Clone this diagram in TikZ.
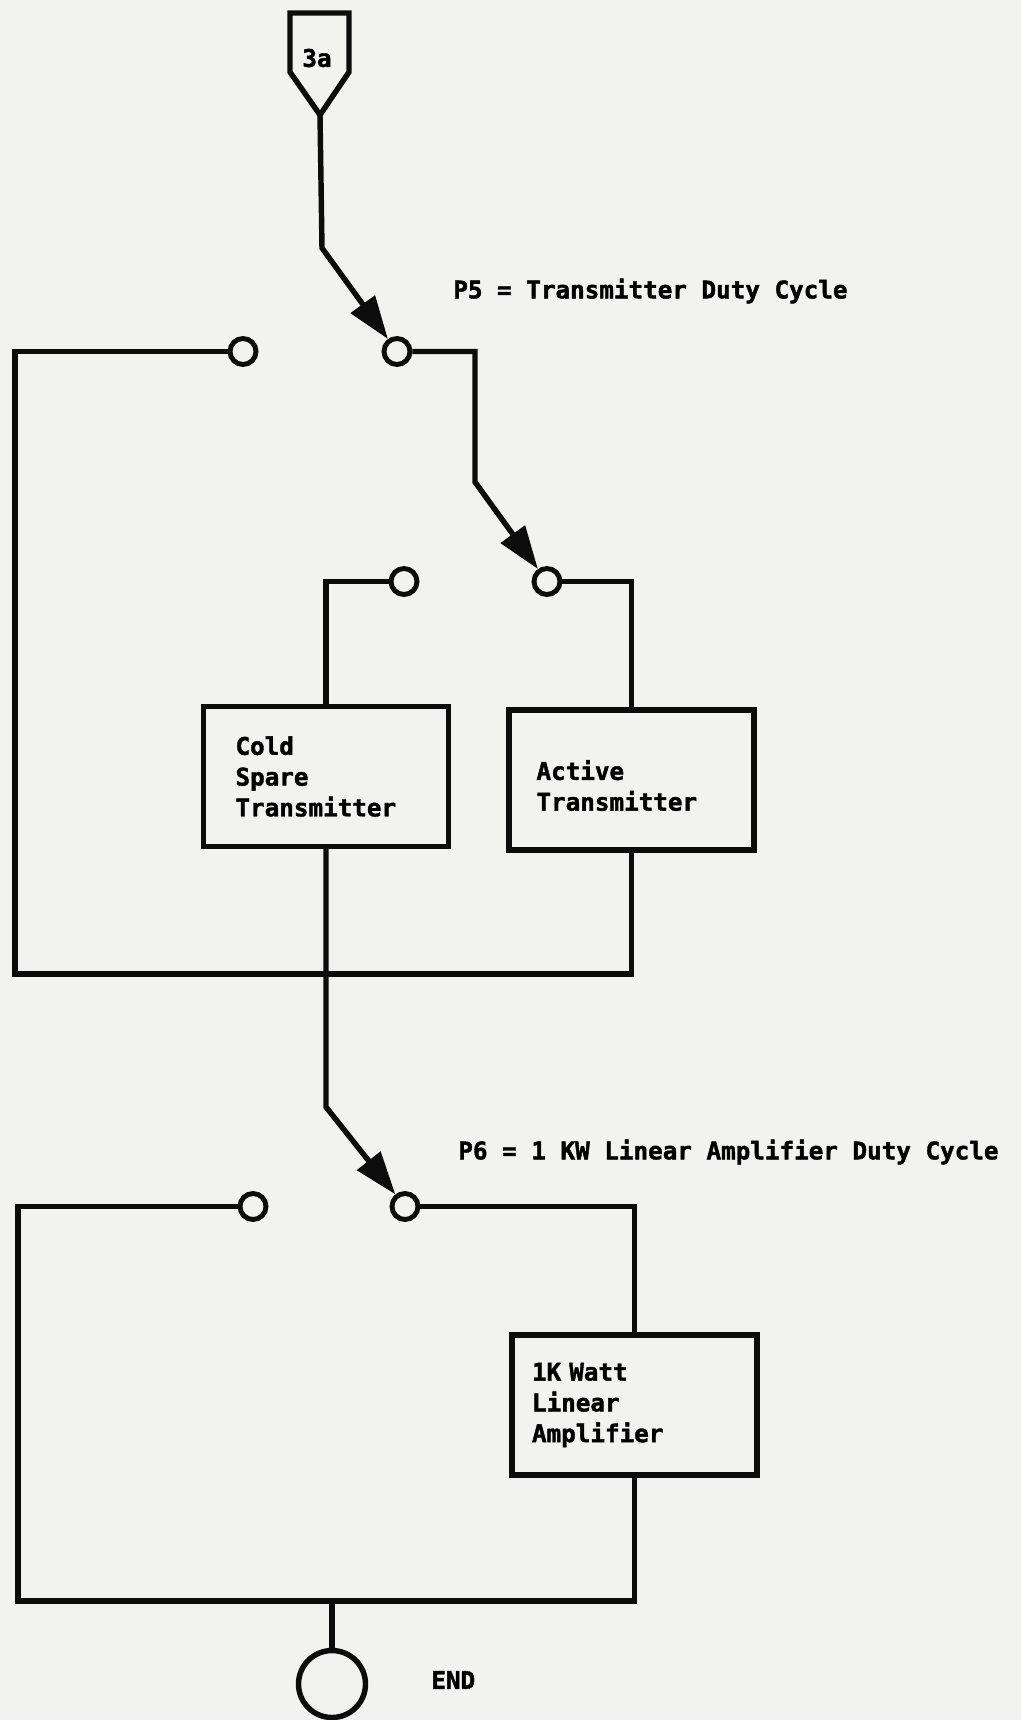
\documentclass[tikz,border=0pt]{standalone}
\usepackage{fontspec}
\newfontfamily\typer{DejaVu Sans Mono}[BoldFeatures={FakeBold=1.6}]
\usepackage{tikz}
\usetikzlibrary{arrows.meta,positioning,calc}
\usepackage{xcolor}
\definecolor{paper}{RGB}{242,242,240}
\definecolor{ink}{RGB}{12,12,12}
\tikzset{
  wire/.style={line width=3.1pt, draw=ink},
  flow/.style={wire, -{Triangle[length=8.6mm,width=5.8mm]}},
  contact/.style={circle, draw=ink, line width=2.8pt, fill=paper, minimum size=5.2mm, inner sep=0pt},
  unit/.style={draw=ink, line width=3.1pt, minimum width=49mm, minimum height=28mm, text width=38mm, inner xsep=5.5mm, align=left, font=\typer\bfseries\fontsize{13.8pt}{17.5pt}\selectfont},
  lab/.style={anchor=west, inner sep=0pt, font=\typer\bfseries\fontsize{13.8pt}{17.5pt}\selectfont},
}

\begin{document}
\begin{tikzpicture}
  \fill[paper] (0,0) rectangle (20.42,-34.40);
  \useasboundingbox (0,0) rectangle (20.42,-34.40);
  % entry from 3a
  \coordinate (tip) at (6.40,-2.30);
  \draw[wire, line join=miter] (5.80,-1.44) -- (5.80,-0.26) -- (6.98,-0.26) -- (6.98,-1.44) -- (tip) -- cycle;
  \node[lab, anchor=center] (in3a) at (6.34,-1.16) {3a};
  % P5 switch
  \node[contact] (s1a) at (4.86,-7.03) {};
  \node[contact] (s1b) at (7.94,-7.03) {};
  \node[lab] (p5) at (9.06,-5.82) {P5 = Transmitter Duty Cycle};
  \coordinate (c0) at (6.44,-4.96);
  \draw[flow] (tip) -- (c0) -- (s1b);
  % transmitters
  \node[contact] (s2a) at (8.08,-11.63) {};
  \node[contact] (s2b) at (10.94,-11.63) {};
  \coordinate (c1) at (9.50,-9.64);
  \draw[flow] (s1b.east) -| (c1) -- (s2b);
  \node[unit, inner xsep=6.4mm, text width=36.2mm] (cold) at (6.52,-15.53) {Cold\\Spare\\Transmitter};
  \node[unit] (act) at (12.63,-15.60) {\mbox{}\\Active\\Transmitter};
  \draw[wire] (s2a.west) -| (cold.north);
  \draw[wire] (s2b.east) -| (act.north);
  \coordinate (lo1) at (0.30,-19.48);
  \draw[wire] (s1a.west) -| (lo1) -| (act.south);
  % P6 switch
  \node[contact] (s3a) at (5.06,-24.13) {};
  \node[contact] (s3b) at (8.10,-24.13) {};
  \node[lab] (p6) at (9.16,-23.04) {P6 = 1 KW Linear Amplifier Duty Cycle};
  \coordinate (c2) at (6.52,-22.14);
  \draw[flow] (cold.south) -- (c2) -- (s3b);
  \node[unit, inner xsep=4mm, text width=41mm] (amp) at (12.69,-28.10) {1K Watt\\Linear\\Amplifier};
  \draw[wire] (s3b.east) -| (amp.north);
  \coordinate (lo3) at (0.36,-32.02);
  \draw[wire] (s3a.west) -| (lo3) -| (amp.south);
  % end
  \node[circle, draw=ink, line width=3.1pt, minimum size=13.4mm, inner sep=0pt] (stop) at (6.64,-33.68) {};
  \draw[wire] (stop.north) -- (stop.north |- lo3);
  \node[lab] (endlab) at (8.62,-33.60) {END};
\end{tikzpicture}
\end{document}
